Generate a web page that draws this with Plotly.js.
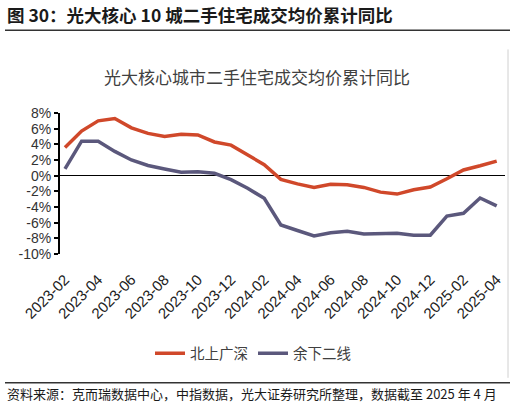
<!DOCTYPE html>
<html>
<head>
<meta charset="utf-8">
<script src="https://cdn.plot.ly/plotly-3.0.1.min.js"></script>
<style>html,body{margin:0;padding:0;background:#fff;}#chart{width:516px;height:403px;}</style>
</head>
<body>
<div id="chart"></div>
<script>
const months = ["2023-02","2023-03","2023-04","2023-05","2023-06","2023-07","2023-08","2023-09","2023-10","2023-11","2023-12",
"2024-01","2024-02","2024-03","2024-04","2024-05","2024-06","2024-07","2024-08","2024-09","2024-10","2024-11","2024-12",
"2025-01","2025-02","2025-03","2025-04"];
const tier1 = [3.6,5.7,7.0,7.3,6.1,5.4,5.0,5.3,5.2,4.3,3.9,2.65,1.4,-0.47,-1.05,-1.5,-1.1,-1.15,-1.5,-2.1,-2.35,-1.8,-1.45,-0.4,0.73,1.26,1.85];
const others = [0.86,4.4,4.4,3.1,2.0,1.3,0.86,0.43,0.5,0.3,-0.5,-1.6,-2.9,-6.3,-7.0,-7.7,-7.3,-7.1,-7.45,-7.4,-7.35,-7.6,-7.6,-5.15,-4.8,-2.85,-3.85];
const seriesNames = ["北上广深","余下二线"];
const tickMonths = months.filter((m,i)=>i%2===0);
const yTicks = [8,6,4,2,0,-2,-4,-6,-8,-10];

const L=60, R=505, T=113.3, B=253.7;
const px = x => (x-L)/(R-L);
const py = y => (B-y)/(B-T);

const cjk = '"Noto Sans CJK SC", "Noto Sans", sans-serif';
const traces = [
  {x: months, y: tier1, name: seriesNames[0], type:'scatter', mode:'lines', line:{color:'#D0482A', width:3.5}},
  {x: months, y: others, name: seriesNames[1], type:'scatter', mode:'lines', line:{color:'#5B587C', width:3.5}}
];
const layout = {
  width:516, height:403,
  margin:{l:L, r:516-R, t:T, b:403-B, pad:0},
  paper_bgcolor:'#fff', plot_bgcolor:'#fff',
  showlegend:true,
  title:{text:'光大核心城市二手住宅成交均价累计同比', font:{family:cjk, size:17, color:'#404040'},
         x:257/516, xanchor:'center', y:1-78/403, yanchor:'middle'},
  xaxis:{type:'category', range:[-0.3,26.5], tickvals:tickMonths, ticktext:tickMonths, tickangle:-45,
         showgrid:false, zeroline:false, showline:false, ticks:'outside', ticklen:10, tickcolor:'rgba(0,0,0,0)',
         tickfont:{family:'"Liberation Sans", Arial, sans-serif', size:15, color:'#222'}},
  yaxis:{range:[-10,8], tickvals:yTicks, ticktext:yTicks.map(v=>v+'%'), showgrid:false,
         zeroline:true, zerolinecolor:'#000', zerolinewidth:1.2,
         showline:true, linecolor:'#000', linewidth:2, ticks:'outside', ticklen:4, tickwidth:2, tickcolor:'#000',
         tickfont:{family:'"Liberation Sans", Arial, sans-serif', size:14, color:'#333'}},
  legend:{orientation:'h', x:px(253), xanchor:'center', y:py(352.7), yanchor:'middle',
          font:{family:cjk, size:14.5, color:'#404040'}, bgcolor:'rgba(0,0,0,0)'},
  shapes:[
    {type:'line', xref:'paper', yref:'paper', x0:px(5), x1:px(510), y0:py(31), y1:py(31), line:{color:'#333', width:1.5}},
    {type:'line', xref:'paper', yref:'paper', x0:px(5), x1:px(510), y0:py(382), y1:py(382), line:{color:'#333', width:1.5}},
    {type:'line', xref:'paper', yref:'paper', x0:px(508), x1:px(508), y0:py(50), y1:py(377), line:{color:'#d0d0d0', width:1}}
  ],
  annotations:[
    {text:'<b>图 30：光大核心 10 城二手住宅成交均价累计同比</b>', xref:'paper', yref:'paper', x:px(5), y:py(15.5),
     xanchor:'left', yanchor:'middle', showarrow:false, font:{family:cjk, size:17.5, color:'#1a1a1a'}},
    {text:'资料来源：克而瑞数据中心，中指数据，光大证券研究所整理，数据截至 2025 年 4 月', xref:'paper', yref:'paper', x:px(5), y:py(392.7),
     xanchor:'left', yanchor:'middle', showarrow:false, font:{family:cjk, size:13, color:'#1a1a1a'}}
  ]
};
Plotly.newPlot('chart', traces, layout, {displayModeBar:false, staticPlot:true});
</script>
</body>
</html>
